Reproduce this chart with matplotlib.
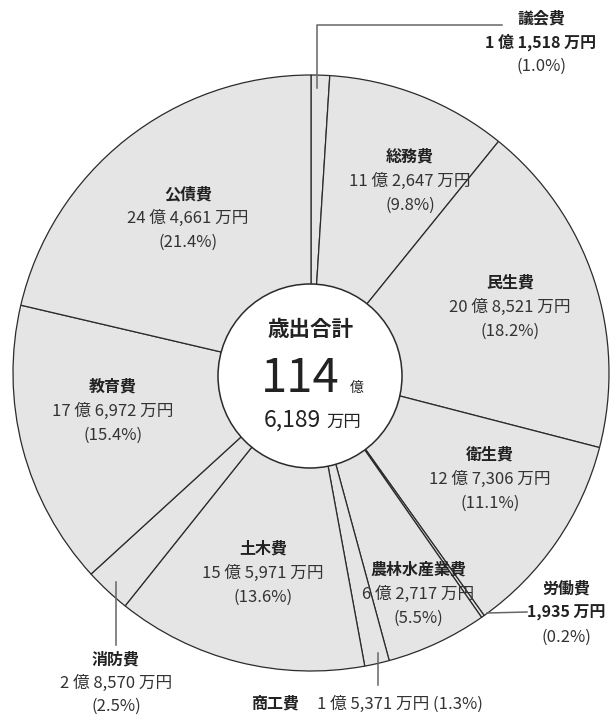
import matplotlib
matplotlib.use("Agg")
import matplotlib.pyplot as plt
from matplotlib.patches import Circle

plt.rcParams["font.family"] = ["Noto Sans CJK JP", "DejaVu Sans"]

# ── data (clockwise from top) ────────────────────────────────────────────────
names = ["議会費", "総務費", "民生費", "衛生費", "労働費", "農林水産業費",
         "商工費", "土木費", "消防費", "教育費", "公債費"]
oku = [1, 11, 20, 12, 0, 6, 1, 15, 2, 17, 24]          # 億円
man = [1518, 2647, 8521, 7306, 1935, 2717, 5371, 5971, 8570, 6972, 4661]  # 万円
pct = [1.0, 9.8, 18.2, 11.1, 0.2, 5.5, 1.3, 13.6, 2.5, 15.4, 21.4]
total_oku, total_man = 114, 6189

values = [o * 10000 + m for o, m in zip(oku, man)]

W, H = 611, 716
FACE = "#e5e5e5"
EDGE = "#2b2b2b"
TXT = "#333333"
FS = 11.5
FS_N = 12


def Y(y):
    # pixel row (from top) -> data y
    return H - y


def amount(i):
    if oku[i] == 0:
        return f"{man[i]:,} 万円"
    return f"{oku[i]} 億 {man[i]:,} 万円"


def label(ax, i, x, y, bold_amount=False, gap=24):
    ax.text(x, Y(y), names[i], ha="center", va="center", fontsize=FS,
            fontweight="bold", color="#222222")
    ax.text(x, Y(y + gap), amount(i), ha="center", va="center",
            fontsize=FS if bold_amount else FS_N,
            fontweight="bold" if bold_amount else "normal",
            color="#222222" if bold_amount else TXT)
    ax.text(x, Y(y + 2 * gap), f"({pct[i]:.1f}%)", ha="center", va="center",
            fontsize=FS_N, color=TXT)


fig = plt.figure(figsize=(W / 100, H / 100), dpi=100)
ax = fig.add_axes([0, 0, 1, 1])

ax.pie(values, startangle=90, counterclock=False, center=(311, Y(373)),
       radius=298, colors=[FACE] * len(values),
       wedgeprops=dict(edgecolor=EDGE, linewidth=0.9))
ax.add_patch(Circle((310, Y(376)), 92, facecolor="white", edgecolor=EDGE,
                    linewidth=1.1, zorder=3))

ax.set_xlim(0, W)
ax.set_ylim(0, H)
ax.set_aspect("equal")
ax.axis("off")

# ── labels inside ────────────────────────────────────────────────────────────
label(ax, 1, 410, 157)
label(ax, 2, 510, 283)
label(ax, 3, 490, 455)
label(ax, 5, 418, 570)
label(ax, 7, 263, 549)
label(ax, 9, 113, 387)
label(ax, 10, 188, 194)

# ── labels outside with leader lines ─────────────────────────────────────────
LEAD = "#666666"
label(ax, 0, 541, 18, bold_amount=True)
ax.plot([317, 317, 502], [Y(88), Y(25), Y(25)], color=LEAD, lw=1.1)

label(ax, 4, 566, 589, bold_amount=True)
ax.plot([487, 527], [Y(613), Y(612)], color=LEAD, lw=1.1)

label(ax, 8, 116, 660, gap=23)
ax.plot([116, 116], [Y(582), Y(645)], color=LEAD, lw=1.1)

ax.plot([378, 378], [Y(653), Y(685)], color=LEAD, lw=1.1)
ax.text(275, Y(704), names[6], ha="center", va="center", fontsize=FS,
        fontweight="bold", color="#222222")
ax.text(317, Y(704), f"{amount(6)} ({pct[6]:.1f}%)", ha="left", va="center",
        fontsize=FS_N, color=TXT)

# ── center total ─────────────────────────────────────────────────────────────
ax.text(310, Y(329), "歳出合計", ha="center", va="center", fontsize=15.5,
        fontweight="bold", color="#222222", zorder=4)
ax.text(300, Y(392), f"{total_oku}", ha="center", va="baseline", fontsize=34,
        color="#222222", zorder=4)
ax.text(350, Y(392), "億", ha="left", va="baseline", fontsize=10,
        color="#222222", zorder=4)
ax.text(321, Y(427), f"{total_man:,}", ha="right", va="baseline", fontsize=16.5,
        color="#222222", zorder=4)
ax.text(326, Y(427), "万円", ha="left", va="baseline", fontsize=12.5,
        color="#222222", zorder=4)

fig.savefig("out.png", dpi=100, facecolor="white")
